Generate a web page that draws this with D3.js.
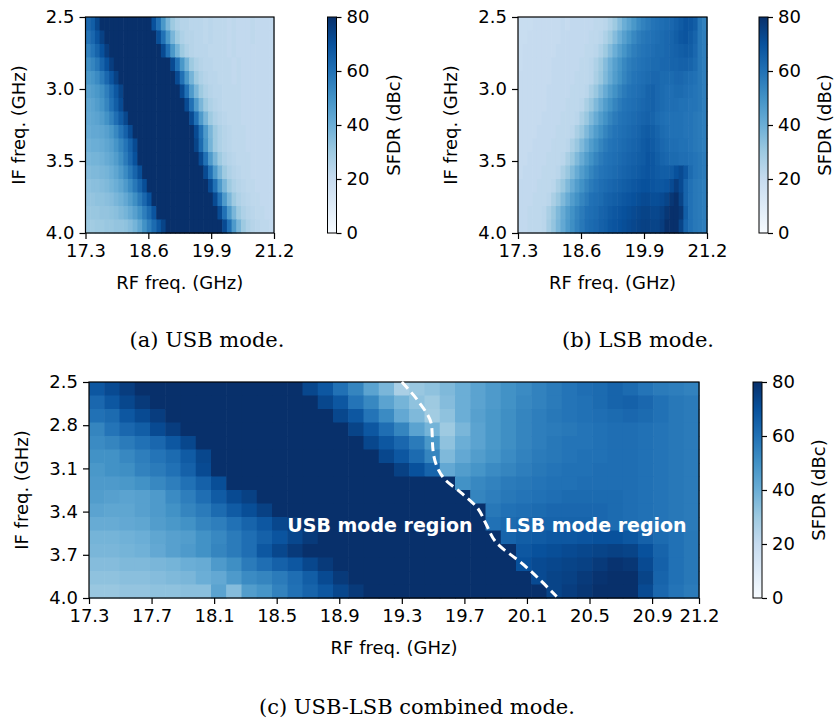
<!DOCTYPE html>
<html>
<head>
<meta charset="utf-8">
<script src="https://cdn.jsdelivr.net/npm/d3@7"></script>
<style>
body{margin:0;background:#fff;}
text{font-family:"DejaVu Sans",sans-serif;}
</style>
</head>
<body>
<div id="chart"></div>
<script>
// axis ranges and ticks
var rfRange = [17.3, 21.2];
var ifRange = [2.5, 4.0];
var rfTicksTop = [17.3, 18.6, 19.9, 21.2];
var ifTicksTop = [2.5, 3.0, 3.5, 4.0];
var rfTicksC = [17.3, 17.7, 18.1, 18.5, 18.9, 19.3, 19.7, 20.1, 20.5, 20.9, 21.2];
var ifTicksC = [2.5, 2.8, 3.1, 3.4, 3.7, 4.0];
var sfdrTicks = [0, 20, 40, 60, 80];
// Blues, linear between the brewer stops (like matplotlib)
var bluesStops = ["#f7fbff","#deebf7","#c6dbef","#9ecae1","#6baed6","#4292c6","#2171b5","#08519c","#08306b"];

// SFDR (dBc), rows = IF 2.5 -> 4.0, cols = RF 17.3 -> 21.2
var usbGrid = [
 [63,66,73,80,80,80,80,80,80,80,80,80,80,80,70,60,48,37,30,26,24,24,23,23,23,22,23,22,22,22,21,22,21,21,21,22,21,21,21,21],
 [59,63,69,75,80,80,80,80,80,80,80,80,80,80,80,71,60,48,37,30,26,24,24,23,23,22,23,22,22,22,21,22,21,21,21,22,21,21,21,21],
 [55,59,64,70,76,80,80,80,80,80,80,80,80,80,80,80,72,60,48,38,30,26,24,23,23,23,22,22,22,22,21,22,21,21,21,21,21,21,21,21],
 [51,54,58,64,70,76,80,80,80,80,80,80,80,80,80,80,80,80,72,60,48,38,30,26,24,23,23,22,22,22,22,21,22,21,21,21,21,21,21,21],
 [48,49,52,57,63,69,75,80,80,80,80,80,80,80,80,80,80,80,80,72,60,48,38,30,26,24,23,23,22,22,22,21,22,21,21,21,21,21,21,21],
 [45,46,48,51,56,62,68,74,80,80,80,80,80,80,80,80,80,80,80,80,72,60,47,37,30,26,24,23,23,22,22,22,22,21,21,21,21,21,21,21],
 [43,44,46,49,54,60,66,72,80,80,80,80,80,80,80,80,80,80,80,80,80,72,60,47,37,30,26,24,23,22,22,22,22,21,21,21,21,21,21,21],
 [42,43,44,46,50,55,61,67,73,80,80,80,80,80,80,80,80,80,80,80,80,80,72,60,47,37,30,26,24,23,22,22,22,21,21,21,21,21,21,21],
 [41,42,42,43,45,48,53,59,65,72,80,80,80,80,80,80,80,80,80,80,80,80,80,72,60,47,37,30,26,24,23,22,22,22,21,21,21,21,21,21],
 [39,40,40,41,43,45,49,54,59,65,72,80,80,80,80,80,80,80,80,80,80,80,80,74,62,49,38,30,26,24,23,22,22,22,21,21,21,21,21,21],
 [37,38,38,39,41,43,46,51,57,63,70,80,80,80,80,80,80,80,80,80,80,80,80,80,72,60,47,37,30,26,24,23,22,22,22,21,21,21,21,21],
 [35,36,36,37,38,40,43,47,52,58,64,71,80,80,80,80,80,80,80,80,80,80,80,80,80,72,60,47,37,30,26,24,23,22,22,21,21,21,21,21],
 [33,34,34,35,36,38,40,43,47,52,58,64,71,80,80,80,80,80,80,80,80,80,80,80,80,80,72,60,47,37,30,26,24,23,22,22,21,21,21,21],
 [32,32,33,33,34,35,37,39,42,46,51,57,63,70,80,80,80,80,80,80,80,80,80,80,80,80,80,72,60,47,37,30,26,24,23,22,22,21,21,21],
 [31,31,31,32,32,33,34,36,38,41,45,50,56,62,69,80,80,80,80,80,80,80,80,80,80,80,80,80,72,60,47,37,30,26,24,23,22,22,21,21],
 [30,29,30,30,31,31,32,32,33,35,38,43,50,56,62,68,74,80,80,80,80,80,80,80,80,80,80,80,80,72,60,47,37,30,26,24,23,22,22,21]
];

var lsbGrid = [
 [19,19,19,20,20,20,20,20,20,21,20,21,21,21,21,21,22,22,23,26,30,35,40,44,48,52,55,57,59,60,61,62,63,65,67,69,68,66,58,55],
 [19,19,20,20,20,20,20,20,20,21,21,21,21,21,21,22,22,23,26,30,35,40,45,49,53,56,58,59,60,61,62,63,64,66,68,69,67,64,58,56],
 [19,20,20,20,20,20,20,20,21,21,21,21,21,21,22,22,23,26,30,35,40,45,49,53,56,58,59,60,61,62,62,63,64,65,66,67,66,63,58,56],
 [19,20,20,20,20,20,20,21,21,21,21,21,21,22,22,23,26,30,35,40,45,49,53,56,58,59,60,61,62,62,63,63,64,64,65,65,64,62,58,56],
 [20,20,20,20,20,20,20,21,21,21,21,21,22,22,22,23,27,31,36,41,46,50,54,57,59,60,61,62,63,63,62,62,62,63,63,62,61,60,58,56],
 [20,20,20,20,20,20,21,21,21,21,21,22,22,22,23,27,31,36,41,46,50,54,57,59,60,61,62,64,65,63,62,61,61,62,62,61,60,59,58,56],
 [20,20,20,20,20,20,21,21,21,21,22,22,22,23,27,31,36,41,46,50,54,57,59,60,61,62,63,64,65,63,62,61,61,61,60,60,59,59,58,56],
 [20,20,20,20,20,21,21,21,21,22,22,22,23,27,31,36,41,46,50,54,57,59,60,61,62,63,64,65,64,62,61,60,60,60,60,59,59,58,57,56],
 [20,20,20,20,21,21,21,21,22,22,22,23,27,31,36,41,46,50,54,57,59,60,61,62,63,64,66,67,66,64,62,61,60,60,60,59,59,58,57,56],
 [20,20,20,21,21,21,21,22,22,22,23,27,31,36,41,46,50,54,57,59,60,61,62,63,64,65,67,68,67,65,63,62,61,61,60,60,59,58,57,56],
 [20,20,21,21,21,21,22,22,22,23,27,31,36,41,46,50,54,57,59,60,61,62,63,64,65,66,67,69,68,66,64,63,62,62,61,61,60,59,58,57],
 [20,21,21,21,21,22,22,22,23,27,31,36,41,46,50,54,57,59,60,61,62,63,64,65,66,67,68,69,68,67,66,66,67,70,72,68,62,59,58,57],
 [21,21,21,21,22,22,22,23,27,31,36,41,46,50,54,57,59,61,62,63,64,65,66,67,68,69,70,70,69,68,68,69,72,76,72,64,60,58,57,56],
 [21,21,21,22,22,22,23,27,31,36,41,46,50,54,57,60,61,62,64,65,66,67,68,69,70,71,72,72,71,71,72,74,78,80,74,64,60,58,57,56],
 [21,21,22,22,22,23,27,31,36,41,46,50,54,57,60,61,62,64,65,67,68,69,70,71,72,73,74,74,73,73,75,78,82,84,78,66,60,58,57,56],
 [21,21,22,22,22,23,28,32,37,42,47,51,55,58,61,62,63,65,66,68,69,70,71,72,73,74,75,75,74,74,76,80,84,82,74,64,60,58,57,56]
];

var combinedGrid = [
 [68,72,76,80,80,80,80,80,80,80,80,80,80,80,73,68,60,54,44,37,27,31,33,36,40,44,47,50,52,55,57,59,61,62,64,62,59,57,56,55],
 [63,68,73,77,80,80,80,80,80,80,80,80,80,80,80,73,68,59,53,44,38,33,30,35,40,44,47,50,53,55,57,59,60,62,64,65,63,60,58,57],
 [60,62,68,72,76,80,80,80,80,80,80,80,80,80,80,80,73,68,59,52,42,36,29,33,40,45,48,51,54,56,58,59,60,61,62,63,62,60,58,57],
 [54,59,63,66,72,76,80,80,80,80,80,80,80,80,80,80,80,74,68,61,54,44,38,30,37,44,48,51,54,56,57,58,59,60,61,61,60,59,58,57],
 [52,54,57,60,63,68,73,80,80,80,80,80,80,80,80,80,80,80,73,68,63,57,48,33,40,44,48,51,54,56,58,59,59,60,61,61,60,59,58,57],
 [50,50,53,56,59,62,67,73,80,80,80,80,80,80,80,80,80,80,80,73,68,62,54,36,42,46,49,52,55,57,58,59,60,60,61,61,60,59,58,57],
 [48,50,51,55,57,60,65,72,80,80,80,80,80,80,80,80,80,80,80,80,75,70,64,42,46,49,52,54,56,58,59,60,60,61,61,61,60,59,58,57],
 [47,47,48,50,53,56,60,65,71,80,80,80,80,80,80,80,80,80,80,80,80,80,80,80,50,53,55,57,58,59,60,60,61,61,61,61,60,59,58,57],
 [46,45,44,45,47,52,56,61,67,72,75,80,80,80,80,80,80,80,80,80,80,80,80,80,80,54,56,58,59,60,61,62,62,62,62,61,60,59,58,57],
 [44,43,43,45,47,50,54,57,62,67,71,75,80,80,80,80,80,80,80,80,80,80,80,80,80,80,58,60,61,62,63,63,63,63,62,61,60,59,58,57],
 [41,41,42,43,46,48,50,54,56,60,64,68,73,77,80,80,80,80,80,80,80,80,80,80,80,80,60,62,63,64,64,64,64,63,62,61,60,59,58,57],
 [38,38,39,40,43,45,46,50,53,57,61,65,69,73,77,80,80,80,80,80,80,80,80,80,80,80,80,64,66,67,68,68,69,70,70,68,65,62,60,58],
 [37,37,38,39,42,45,47,50,54,57,61,68,73,77,80,80,80,80,80,80,80,80,80,80,80,80,80,80,68,70,71,72,73,74,75,74,70,64,60,58],
 [35,35,36,36,37,38,40,41,47,51,57,61,65,68,73,77,80,80,80,80,80,80,80,80,80,80,80,80,70,72,73,74,75,77,79,78,72,65,60,58],
 [33,33,34,34,35,36,37,40,42,47,52,54,57,61,66,72,77,80,80,80,80,80,80,80,80,80,80,80,80,72,74,75,77,79,80,80,74,64,60,58],
 [31,31,32,32,33,33,34,34,44,35,46,49,55,60,64,68,73,77,80,80,80,80,80,80,80,80,80,80,80,80,74,76,78,80,82,80,72,63,59,57]
];

// dashed USB / LSB border in panel (c)
var borderRF = [19.30, 19.41, 19.49, 19.50, 19.57, 19.68, 19.78, 19.84, 19.90, 20.08, 20.29];
var borderIF = [2.50, 2.64, 2.80, 2.98, 3.17, 3.27, 3.37, 3.49, 3.61, 3.77, 3.99];
var regionLabels = [{t:"USB mode region", rf:19.16, f:3.54}, {t:"LSB mode region", rf:20.54, f:3.54}];

var svg = d3.select("#chart").append("svg").attr("width",835).attr("height",722);
var color = d3.scaleLinear().domain(d3.range(0,81,10)).range(bluesStops).clamp(true);

// colorbar gradient
var grad = svg.append("defs").append("linearGradient").attr("id","blues")
              .attr("x1",0).attr("y1",1).attr("x2",0).attr("y2",0);
bluesStops.forEach(function(c,i){
    grad.append("stop").attr("offset",i/(bluesStops.length-1)).attr("stop-color",c);
});

function styleAxis(a){
    a.selectAll("text").style("font-size","18px").attr("fill","#000");
    a.selectAll("line").attr("stroke","#000").attr("stroke-width",1.2);
    a.select(".domain").remove();
}

function drawMap(box, grid, rfTicks, ifTicks){
    var g = svg.append("g").attr("transform","translate("+box.x+","+box.y+")");
    var x = d3.scaleLinear().domain(rfRange).range([0,box.w]);
    var y = d3.scaleLinear().domain(ifRange).range([0,box.h]);
    var col = d3.scaleBand().domain(d3.range(grid[0].length)).range([0,box.w]);
    var row = d3.scaleBand().domain(d3.range(grid.length)).range([0,box.h]);

    var cells = [];
    grid.forEach(function(r,i){ r.forEach(function(v,j){ cells.push({i:i,j:j,v:v}); }); });
    g.append("g").selectAll("rect").data(cells).join("rect")
        .attr("x",function(d){return col(d.j);}).attr("y",function(d){return row(d.i);})
        .attr("width",col.bandwidth()+0.6).attr("height",row.bandwidth()+0.6)
        .attr("fill",function(d){return color(d.v);});

    var ax = g.append("g").attr("transform","translate(0,"+box.h+")")
              .call(d3.axisBottom(x).tickValues(rfTicks).tickFormat(d3.format(".1f")).tickSize(6).tickPadding(5));
    styleAxis(ax);
    var ay = g.append("g")
              .call(d3.axisLeft(y).tickValues(ifTicks).tickFormat(d3.format(".1f")).tickSize(6).tickPadding(5));
    styleAxis(ay);

    g.append("rect").attr("width",box.w).attr("height",box.h)
        .attr("fill","none").attr("stroke","#000").attr("stroke-width",1.2);

    g.append("text").attr("x",box.w/2).attr("y",box.h+56).attr("text-anchor","middle")
        .style("font-size","18px").text("RF freq. (GHz)");
    g.append("text").attr("transform","translate(-61,"+(box.h/2)+") rotate(-90)").attr("text-anchor","middle")
        .style("font-size","18px").text("IF freq. (GHz)");

    // colorbar
    var cb = svg.append("g").attr("transform","translate("+box.cb+","+box.y+")");
    cb.append("rect").attr("width",9).attr("height",box.h).attr("fill","url(#blues)")
        .attr("stroke","#000").attr("stroke-width",1);
    var cs = d3.scaleLinear().domain([0,80]).range([box.h,0]);
    var ac = cb.append("g").attr("transform","translate(9,0)")
               .call(d3.axisRight(cs).tickValues(sfdrTicks).tickSize(5).tickPadding(5));
    styleAxis(ac);
    cb.append("text").attr("transform","translate(72,"+(box.h/2)+") rotate(-90)").attr("text-anchor","middle")
        .style("font-size","18px").text("SFDR (dBc)");

    return {g:g, x:x, y:y};
}

function caption(cx, cy, t){
    svg.append("text").attr("x",cx).attr("y",cy).attr("text-anchor","middle")
        .style("font-family","'DejaVu Serif',serif").style("font-size","21px").text(t);
}

//---------------------------- (a) USB ----------------------------//
drawMap({x:85.5, y:17, w:188.5, h:216, cb:327.5}, usbGrid, rfTicksTop, ifTicksTop);
caption(207, 347, "(a) USB mode.");

//---------------------------- (b) LSB ----------------------------//
drawMap({x:518, y:17, w:189, h:216, cb:759}, lsbGrid, rfTicksTop, ifTicksTop);
caption(638, 347, "(b) LSB mode.");

//------------------------- (c) combined --------------------------//
var pc = drawMap({x:89, y:382, w:610, h:216, cb:753}, combinedGrid, rfTicksC, ifTicksC);
caption(417, 714, "(c) USB-LSB combined mode.");

var border = d3.line().curve(d3.curveMonotoneY)
               .x(function(d){return pc.x(d[0]);}).y(function(d){return pc.y(d[1]);});
pc.g.append("path").datum(d3.zip(borderRF, borderIF)).attr("d",border)
    .attr("fill","none").attr("stroke","#fff").attr("stroke-width",3).attr("stroke-dasharray","9,5");

pc.g.selectAll(".region").data(regionLabels).join("text").attr("class","region")
    .attr("x",function(d){return pc.x(d.rf);}).attr("y",function(d){return pc.y(d.f);})
    .attr("text-anchor","middle").attr("fill","#fff")
    .style("font-size","19px").style("font-weight","bold").text(function(d){return d.t;});
</script>
</body>
</html>
